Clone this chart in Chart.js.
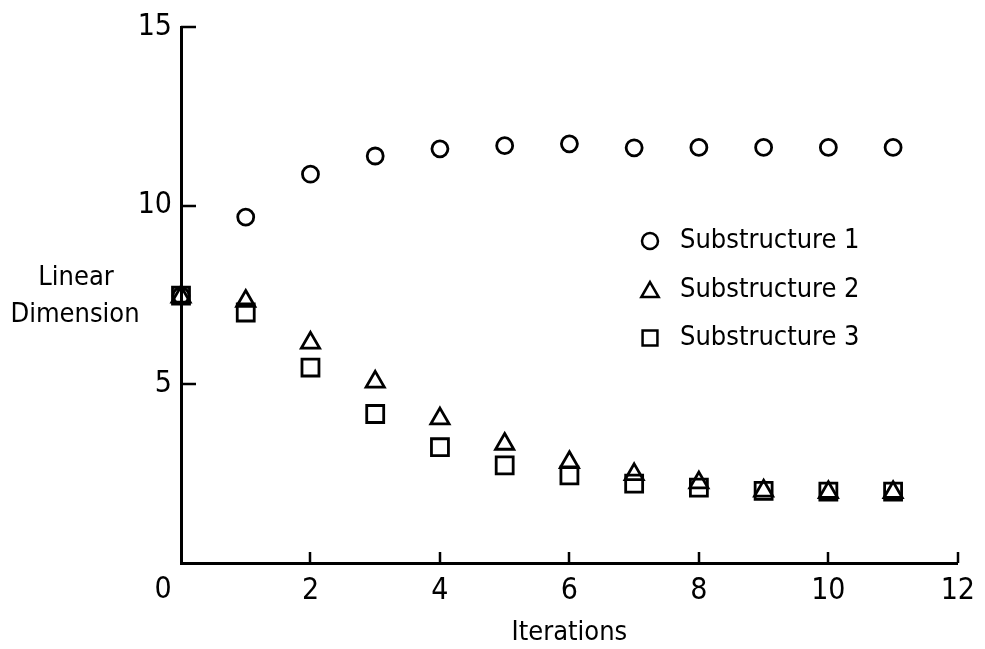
<!DOCTYPE html>
<html>
<head>
<meta charset="utf-8">
<script src="https://cdn.jsdelivr.net/npm/chart.js@4/dist/chart.umd.min.js"></script>
<style>
  html, body { margin: 0; padding: 0; background: #fff; }
  #wrap { width: 985px; height: 649px; }
</style>
</head>
<body>
<div id="wrap"><canvas id="myChart" width="985" height="649"></canvas></div>
<script>
const FONT = "'DejaVu Sans Condensed', 'Liberation Sans Narrow', sans-serif";
const NUM_FONT = "'Liberation Sans Narrow', 'DejaVu Sans Condensed', sans-serif";

// data
const iterations = [0, 1, 2, 3, 4, 5, 6, 7, 8, 9, 10, 11];
const substructure1 = [7.48, 9.68, 10.88, 11.39, 11.59, 11.68, 11.73, 11.62, 11.63, 11.63, 11.63, 11.63];
const substructure2 = [7.45, 7.33, 6.16, 5.07, 4.04, 3.33, 2.82, 2.48, 2.25, 2.02, 1.98, 1.98];
const substructure3 = [7.48, 7.01, 5.47, 4.17, 3.24, 2.73, 2.45, 2.22, 2.11, 2.02, 2.0, 2.0];
const seriesNames = ["Substructure 1", "Substructure 2", "Substructure 3"];
const xTicks = [0, 2, 4, 6, 8, 10, 12];
const yTicks = [0, 5, 10, 15];

const toPoints = (vals) => vals.map((v, i) => ({ x: iterations[i], y: v }));

// inward tick marks, the "0", the y title and the legend are drawn by hand
const decorations = {
    id: "decorations",
    afterDraw(chart) {
        const ctx = chart.ctx;
        const area = chart.chartArea;
        const xs = chart.scales.x;
        const ys = chart.scales.y;
        ctx.save();
        ctx.strokeStyle = "#000";
        ctx.lineWidth = 2.5;
        ctx.beginPath();
        yTicks.slice(1).forEach((v) => {
            const py = Math.round(ys.getPixelForValue(v));
            ctx.moveTo(area.left, py);
            ctx.lineTo(area.left + 15, py);
        });
        xTicks.slice(1).forEach((v) => {
            const px = Math.round(xs.getPixelForValue(v));
            ctx.moveTo(px, area.bottom);
            ctx.lineTo(px, area.bottom - 11);
        });
        ctx.stroke();

        ctx.fillStyle = "#000";
        ctx.textBaseline = "middle";

        // origin label sits left of the axis
        ctx.font = "30px " + NUM_FONT;
        ctx.textAlign = "center";
        ctx.fillText(String(xTicks[0]), xs.getPixelForValue(xTicks[0]) - 18, 590);

        // y title, horizontal on two lines
        ctx.font = "27px " + FONT;
        ctx.fillText("Linear", 76, 278);
        ctx.fillText("Dimension", 75, 315);

        // legend
        const lx = 650;
        const rows = [241, 290, 338];
        chart.data.datasets.forEach((ds, i) => {
            ctx.fillStyle = "#fff";
            ctx.strokeStyle = "#000";
            ctx.lineWidth = 2.5;
            Chart.helpers.drawPoint(ctx, {
                pointStyle: ds.pointStyle,
                radius: ds.legendRadius,
                borderWidth: 2.5,
            }, lx, rows[i] + (ds.pointStyle === "triangle" ? 2 : 0));
            ctx.textAlign = "left";
            ctx.fillStyle = "#000";
            ctx.fillText(ds.label, 680, rows[i]);
        });
        ctx.restore();
    },
};

const markerStyle = {
    showLine: false,
    clip: false,
    borderColor: "#000",
    backgroundColor: "rgba(255,255,255,0)",
    borderWidth: 2.8,
};

new Chart(document.getElementById("myChart"), {
    type: "scatter",
    data: {
        datasets: [
            { ...markerStyle, label: seriesNames[0], data: toPoints(substructure1), pointStyle: "circle", pointRadius: 8, legendRadius: 8 },
            { ...markerStyle, label: seriesNames[1], data: toPoints(substructure2), pointStyle: "triangle", pointRadius: 10.5, legendRadius: 10 },
            { ...markerStyle, label: seriesNames[2], data: toPoints(substructure3), pointStyle: "rect", pointRadius: 12, legendRadius: 10.5 },
        ],
    },
    options: {
        responsive: false,
        animation: false,
        layout: { padding: { top: 20, right: 23, left: 0, bottom: 0 } },
        plugins: {
            legend: { display: false },
            tooltip: { enabled: false },
        },
        scales: {
            x: {
                type: "linear",
                min: 0,
                max: 12,
                afterBuildTicks: (s) => { s.ticks = xTicks.map((v) => ({ value: v })); },
                afterFit: (s) => { s.height = 86; },
                grid: { drawOnChartArea: false, drawTicks: false },
                border: { display: true, color: "#000", width: 3 },
                ticks: {
                    color: "#000",
                    padding: 10,
                    font: { family: NUM_FONT, size: 30 },
                    maxRotation: 0,
                    callback: (v) => (v === 0 ? "" : v),
                },
                title: {
                    display: true,
                    text: "Iterations",
                    color: "#000",
                    font: { family: FONT, size: 27 },
                    padding: { top: 2, bottom: 0 },
                },
            },
            y: {
                min: 0,
                max: 15,
                afterBuildTicks: (s) => { s.ticks = yTicks.map((v) => ({ value: v })); },
                afterFit: (s) => { s.width = 181; },
                grid: { drawOnChartArea: false, drawTicks: false },
                border: { display: true, color: "#000", width: 3 },
                ticks: {
                    color: "#000",
                    padding: 9,
                    font: { family: NUM_FONT, size: 30 },
                    callback: (v) => (v === 0 ? "" : v),
                },
            },
        },
    },
    plugins: [decorations],
});
</script>
</body>
</html>
